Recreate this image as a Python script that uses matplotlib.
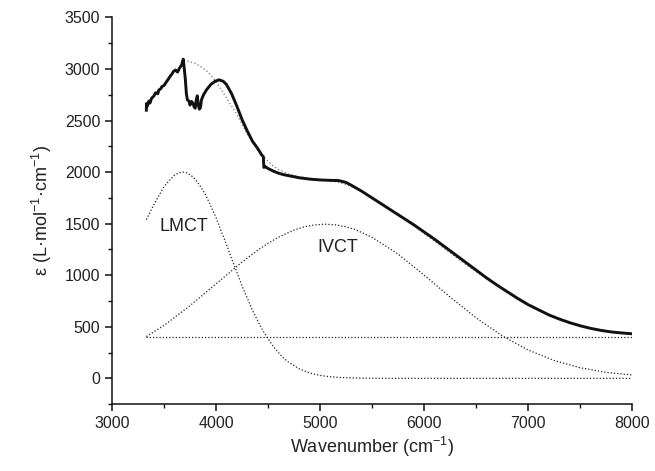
import matplotlib
matplotlib.use("Agg")
import matplotlib.pyplot as plt
from matplotlib.ticker import MultipleLocator

plt.rcParams['font.family'] = ['Liberation Sans', 'DejaVu Sans']
plt.rcParams['mathtext.fontset'] = 'custom'
plt.rcParams['mathtext.rm'] = 'Liberation Sans'

wn_exp = [3330, 3332, 3340, 3355, 3365, 3380, 3400, 3420, 3440, 3450, 3470, 3480,
          3500, 3520, 3530, 3560, 3575, 3590, 3610, 3630, 3650, 3670, 3685, 3695,
          3705, 3715, 3725, 3740, 3750, 3765, 3780, 3790, 3800, 3810, 3820, 3830,
          3840, 3850, 3860, 3880, 3910, 3950, 3990, 4030, 4070, 4100, 4150, 4200,
          4250, 4300, 4350, 4400, 4440, 4455, 4460, 4470, 4500, 4550, 4600, 4650,
          4700, 4800, 4900, 5000, 5100, 5180, 5250, 5300, 5400, 5500, 5600, 5700,
          5800, 5900, 6000, 6100, 6200, 6300, 6400, 6500, 6600, 6700, 6800, 6900,
          7000, 7100, 7200, 7300, 7400, 7500, 7600, 7700, 7800, 7900, 8000]
eps_exp = [2600, 2665, 2640, 2690, 2670, 2715, 2735, 2770, 2760, 2795, 2810, 2830,
           2840, 2870, 2885, 2930, 2950, 2975, 2990, 2970, 3010, 3040, 3095, 3000,
           2900, 2760, 2700, 2690, 2650, 2685, 2665, 2630, 2620, 2700, 2740, 2650,
           2610, 2625, 2700, 2750, 2800, 2850, 2880, 2895, 2880, 2850, 2760, 2640,
           2510, 2400, 2300, 2230, 2165, 2150, 2045, 2055, 2035, 2010, 1990, 1975,
           1965, 1945, 1932, 1924, 1920, 1918, 1900, 1873, 1815, 1750, 1685, 1620,
           1555, 1490, 1420, 1350, 1275, 1200, 1125, 1050, 975, 905, 840, 775,
           715, 665, 615, 575, 540, 510, 485, 465, 450, 440, 432]

# cumulative fit
wn_fit = [3690, 3720, 3750, 3800, 3850, 3900, 3950, 4000, 4050, 4100, 4150, 4200,
          4300, 4400, 4450, 4500, 4550, 4600, 4700, 4800, 4900, 5000, 5100, 5200,
          5300, 5400, 5500, 5600, 5700, 5800, 5900, 6000, 6200, 6400, 6600, 6800,
          7000, 7200, 7400, 7600, 7800, 8000]
eps_fit = [3080, 3078, 3070, 3055, 3025, 2990, 2940, 2880, 2800, 2720, 2640, 2560,
           2370, 2215, 2160, 2105, 2060, 2025, 1980, 1955, 1940, 1926, 1915, 1895,
           1862, 1815, 1755, 1690, 1620, 1550, 1480, 1405, 1255, 1105, 965, 835,
           720, 620, 540, 485, 455, 435]

# LMCT band
wn_lmct = [3330, 3400, 3450, 3500, 3550, 3600, 3640, 3680, 3720, 3760, 3800, 3850,
           3900, 3950, 4000, 4050, 4100, 4150, 4200, 4250, 4300, 4350, 4400, 4450,
           4500, 4550, 4600, 4650, 4700, 4800, 4900, 5000, 5100, 5200, 5400, 5600,
           6000, 7000, 8000]
eps_lmct = [1540, 1680, 1770, 1860, 1918, 1970, 1992, 2000, 1992, 1968, 1932, 1862,
            1780, 1670, 1560, 1426, 1300, 1160, 1030, 897, 780, 660, 560, 463,
            385, 309, 250, 196, 155, 92, 52, 28, 15, 8, 2, 0,
            0, 0, 0]

# IVCT band
wn_ivct = [3330, 3500, 3750, 4000, 4250, 4400, 4500, 4600, 4750, 4850, 4950, 5050,
           5150, 5250, 5350, 5500, 5750, 6000, 6250, 6500, 6750, 7000, 7250, 7500,
           7750, 8000]
eps_ivct = [405, 513, 705, 916, 1127, 1242, 1310, 1368, 1438, 1470, 1488, 1495,
            1488, 1470, 1438, 1368, 1205, 1002, 789, 587, 413, 275, 173, 103,
            58, 33]

# baseline
wn_base = [3330, 8000]
eps_base = [405, 405]

fig = plt.figure(figsize=(6.55, 4.71), dpi=100)
ax = fig.add_axes([0.171, 0.142, 0.794, 0.821])

dots = (0, (1, 1.6))
ax.plot(wn_fit, eps_fit, color='#8a8a8a', lw=1.0, ls=dots)
ax.plot(wn_lmct, eps_lmct, color='#222222', lw=0.9, ls=dots)
ax.plot(wn_ivct, eps_ivct, color='#222222', lw=0.9, ls=dots)
ax.plot(wn_base, eps_base, color='#222222', lw=0.9, ls=dots)
ax.plot(wn_exp, eps_exp, color='#111111', lw=2.1)

ax.text(3690, 1470, 'LMCT', fontsize=13, ha='center', va='center', color='#222222')
ax.text(5170, 1270, 'IVCT', fontsize=13, ha='center', va='center', color='#222222')

ax.set_xlim(3000, 8000)
ax.set_ylim(-250, 3500)
ax.xaxis.set_major_locator(MultipleLocator(1000))
ax.xaxis.set_minor_locator(MultipleLocator(500))
ax.yaxis.set_major_locator(MultipleLocator(500))
ax.yaxis.set_minor_locator(MultipleLocator(250))

for s in ['top', 'right']:
    ax.spines[s].set_visible(False)
for s in ['left', 'bottom']:
    ax.spines[s].set_linewidth(1.1)
    ax.spines[s].set_color('#111111')

ax.tick_params(which='major', direction='out', length=5, width=1.1, labelsize=11.5,
               colors='#111111', labelcolor='#222222')
ax.tick_params(which='minor', direction='out', length=3, width=1.0, colors='#111111')

ax.set_xlabel(r'Wavenumber (cm$^{\mathregular{-1}}$)', fontsize=13, color='#222222', labelpad=3)
ax.set_ylabel(r'ε (L·mol$^{\mathregular{-1}}$·cm$^{\mathregular{-1}}$)', fontsize=13,
              color='#222222', labelpad=8)

fig.savefig('out.png', dpi=100)
